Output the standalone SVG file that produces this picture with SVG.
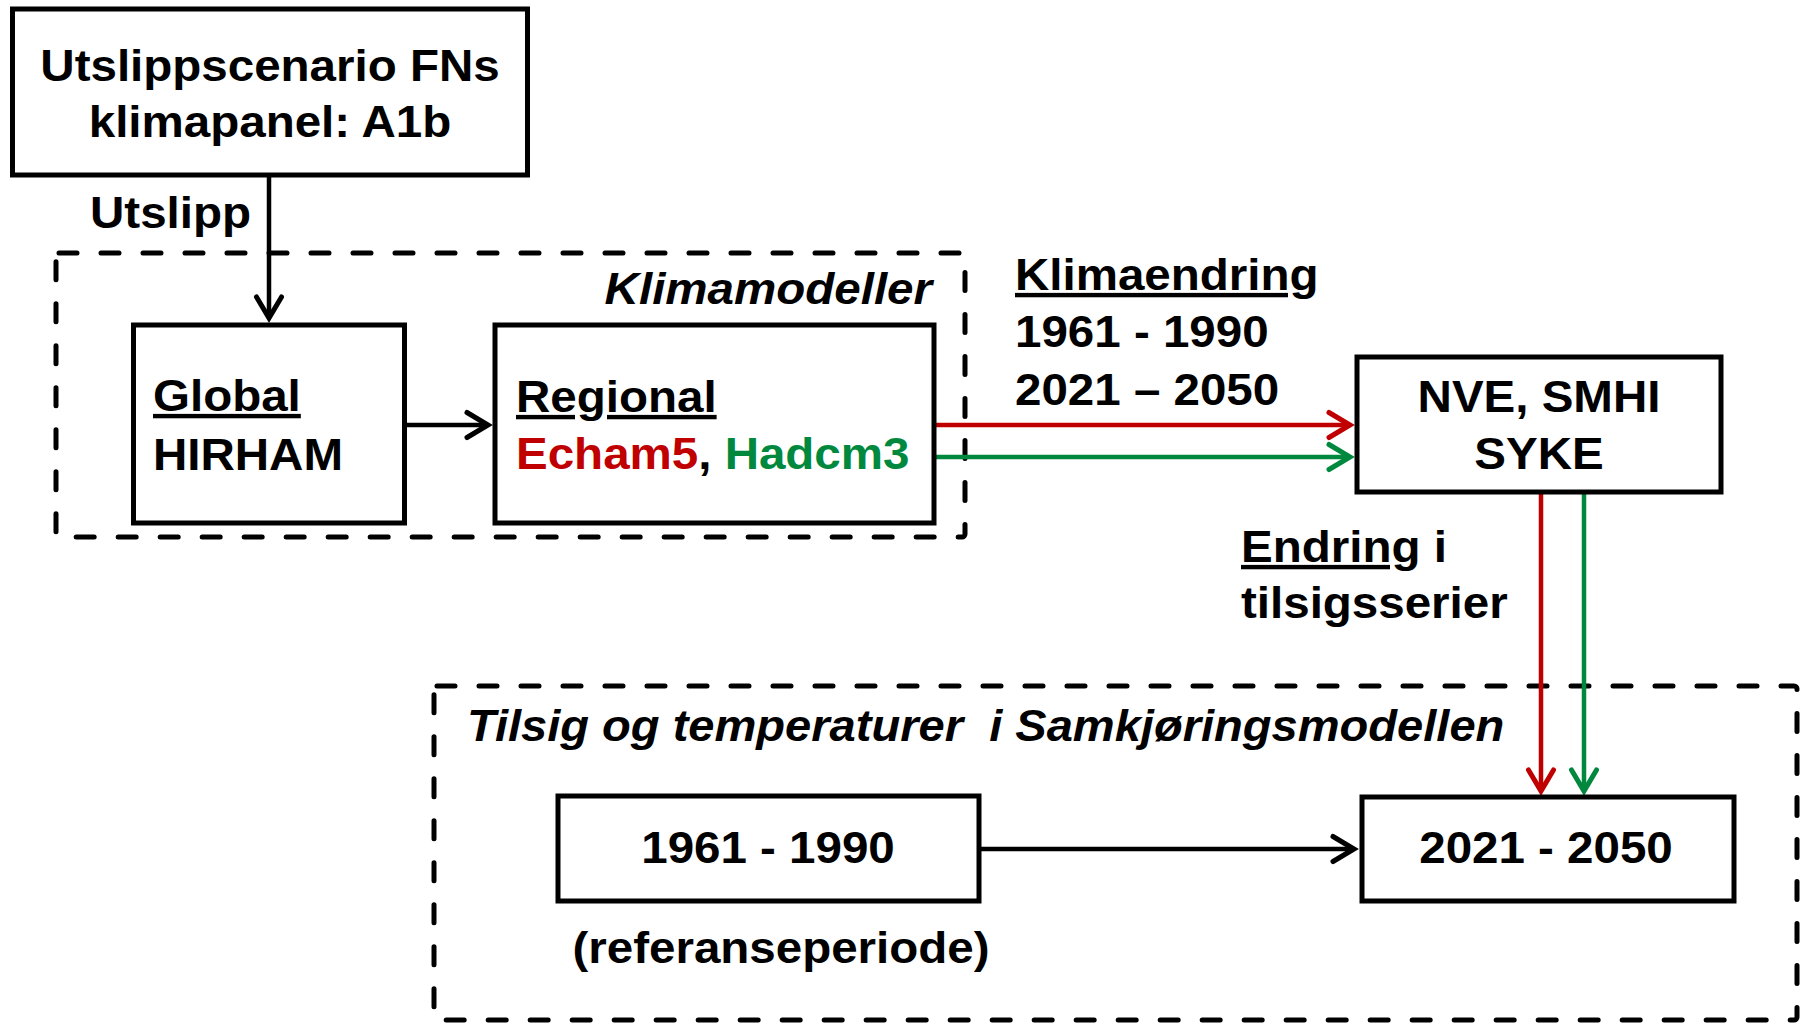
<svg xmlns="http://www.w3.org/2000/svg" width="1807" height="1024" viewBox="0 0 1807 1024">
<defs>
<style>
.box{fill:#fff;stroke:#000;stroke-width:5}
.grp{fill:none;stroke:#000;stroke-width:5;stroke-dasharray:18 24;stroke-linecap:round}
.t{font-family:"Liberation Sans",Arial,sans-serif;font-weight:bold;font-size:44px;fill:#000}
.it{font-style:italic}
.u{text-decoration:underline}
.mid{text-anchor:middle}
.end{text-anchor:end}
.red{fill:#C00000}
.grn{fill:#00893E}
.ln{fill:none;stroke-width:4.5}
</style>
<marker id="ahk" markerUnits="userSpaceOnUse" markerWidth="40" markerHeight="40" viewBox="-30 -20 40 40" refX="0" refY="0" orient="auto" overflow="visible">
<path d="M-21,-12.5 L0,0 L-21,12.5" fill="none" stroke="#000" stroke-width="5" stroke-linecap="round"/>
</marker>
<marker id="ahr" markerUnits="userSpaceOnUse" markerWidth="40" markerHeight="40" viewBox="-30 -20 40 40" refX="0" refY="0" orient="auto" overflow="visible">
<path d="M-21,-12.5 L0,0 L-21,12.5" fill="none" stroke="#C00000" stroke-width="5" stroke-linecap="round"/>
</marker>
<marker id="ahg" markerUnits="userSpaceOnUse" markerWidth="40" markerHeight="40" viewBox="-30 -20 40 40" refX="0" refY="0" orient="auto" overflow="visible">
<path d="M-21,-12.5 L0,0 L-21,12.5" fill="none" stroke="#00893E" stroke-width="5" stroke-linecap="round"/>
</marker>
</defs>
<rect width="1807" height="1024" fill="#fff"/>

<g id="group-klimamodeller">
<rect class="grp" x="56" y="253" width="909" height="284" rx="3"/>
<text class="t it end" transform="translate(932 304) scale(1.08 1)">Klimamodeller</text>
</g>

<g id="group-samkjoring">
<rect class="grp" x="434" y="686" width="1363" height="334" rx="3"/>
<text class="t it" xml:space="preserve" transform="translate(467 741) scale(1.07 1)">Tilsig og temperaturer  i Samkjøringsmodellen</text>
</g>

<g id="connectors">
<line class="ln" x1="269" y1="177" x2="269" y2="318" stroke="#000" marker-end="url(#ahk)"/>
<line class="ln" x1="406" y1="425" x2="488" y2="425" stroke="#000" marker-end="url(#ahk)"/>
<line class="ln" x1="936" y1="425" x2="1350" y2="425" stroke="#C00000" marker-end="url(#ahr)"/>
<line class="ln" x1="936" y1="457" x2="1350" y2="457" stroke="#00893E" marker-end="url(#ahg)"/>
<line class="ln" x1="1541" y1="494" x2="1541" y2="791" stroke="#C00000" marker-end="url(#ahr)"/>
<line class="ln" x1="1584" y1="494" x2="1584" y2="791" stroke="#00893E" marker-end="url(#ahg)"/>
<line class="ln" x1="981" y1="849" x2="1354" y2="849" stroke="#000" marker-end="url(#ahk)"/>
<text class="t" transform="translate(251 228) scale(1.08 1)" text-anchor="end">Utslipp</text>
<text class="t u" transform="translate(1015 290) scale(1.08 1)">Klimaendring</text>
<text class="t" transform="translate(1015 347) scale(1.08 1)">1961 - 1990</text>
<text class="t" transform="translate(1015 405) scale(1.08 1)">2021 – 2050</text>
<text class="t" transform="translate(1241 562) scale(1.08 1)"><tspan class="u">Endring</tspan> i</text>
<text class="t" transform="translate(1241 618) scale(1.08 1)">tilsigsserier</text>
</g>

<g id="node-utslippscenario">
<rect class="box" x="12.5" y="9" width="515" height="166"/>
<text class="t mid" transform="translate(270 81) scale(1.08 1)">Utslippscenario FNs</text>
<text class="t mid" transform="translate(270 137) scale(1.08 1)">klimapanel: A1b</text>
</g>

<g id="node-global">
<rect class="box" x="133.5" y="325" width="271" height="198"/>
<text class="t u" transform="translate(153 411) scale(1.08 1)">Global</text>
<text class="t" transform="translate(153 470) scale(1.08 1)">HIRHAM</text>
</g>

<g id="node-regional">
<rect class="box" x="495" y="325" width="439" height="198"/>
<text class="t u" transform="translate(516 412) scale(1.08 1)">Regional</text>
<text class="t" transform="translate(516 469) scale(1.08 1)"><tspan class="red">Echam5</tspan>, <tspan class="grn">Hadcm3</tspan></text>
</g>

<g id="node-nve">
<rect class="box" x="1357" y="357" width="364" height="135"/>
<text class="t mid" transform="translate(1539 412) scale(1.08 1)">NVE, SMHI</text>
<text class="t mid" transform="translate(1539 469) scale(1.08 1)">SYKE</text>
</g>

<g id="node-1961">
<rect class="box" x="558" y="796" width="421" height="105"/>
<text class="t mid" transform="translate(768 863) scale(1.08 1)">1961 - 1990</text>
<text class="t mid" transform="translate(781 963) scale(1.08 1)">(referanseperiode)</text>
</g>

<g id="node-2021">
<rect class="box" x="1362" y="797" width="372" height="104"/>
<text class="t mid" transform="translate(1546 863) scale(1.08 1)">2021 - 2050</text>
</g>
</svg>
